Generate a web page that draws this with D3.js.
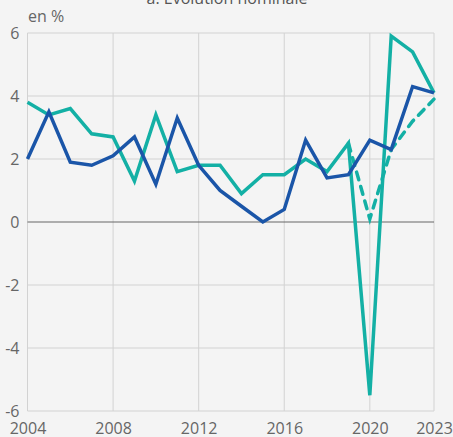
<!DOCTYPE html>
<html>
<head>
<meta charset="utf-8">
<script src="https://cdn.jsdelivr.net/npm/d3@7"></script>
<style>
  html, body { margin: 0; padding: 0; background: #f4f4f4; }
  svg { display: block; font-family: "Open Sans", sans-serif; }
</style>
</head>
<body>
<div id="chart"></div>
<script>
(function () {

  const years = d3.range(2004, 2024);
  const tickYears = [2004, 2008, 2012, 2016, 2020, 2023];
  const yTicks = [-6, -4, -2, 0, 2, 4, 6];

  const teal = [3.8, 3.4, 3.6, 2.8, 2.7, 1.3, 3.4, 1.6, 1.8, 1.8, 0.9, 1.5, 1.5, 2.0, 1.6, 2.5, -5.5, 5.9, 5.4, 4.1];
  const blue = [2.0, 3.5, 1.9, 1.8, 2.1, 2.7, 1.2, 3.3, 1.8, 1.0, 0.5, 0.0, 0.4, 2.6, 1.4, 1.5, 2.6, 2.3, 4.3, 4.1];
  const dashedYears = [2019, 2020, 2021, 2022, 2023];
  const dashed = [2.5, 0.1, 2.3, 3.2, 3.9];

  const width = 453,
    height = 437,
    margin = { top: 33, right: 19, bottom: 26, left: 27.5 },
    chartWidth = width - margin.left - margin.right,
    chartHeight = height - margin.top - margin.bottom;

  const x = d3.scaleLinear().domain([2004, 2023]).range([0, chartWidth]);
  const y = d3.scaleLinear().domain([-6, 6]).range([chartHeight, 0]);

  const svg = d3.select('#chart')
    .append('svg')
    .attr('width', width)
    .attr('height', height);

  // title, cut off at the top like in the source
  svg.append('text')
    .attr('x', 227)
    .attr('y', 4)
    .attr('text-anchor', 'middle')
    .attr('font-size', 16)
    .attr('fill', '#555')
    .text('a. Évolution nominale');

  svg.append('text')
    .attr('x', 28)
    .attr('y', 22)
    .attr('font-size', 16)
    .attr('fill', '#666')
    .text('en %');

  const chart = svg.append('g')
    .attr('transform', `translate(${margin.left}, ${margin.top})`);

  // grid
  chart.append('g')
    .selectAll('line')
    .data(yTicks.filter(d => d !== 0))
    .enter()
    .append('line')
    .attr('x1', 0)
    .attr('x2', chartWidth)
    .attr('y1', d => y(d))
    .attr('y2', d => y(d))
    .attr('stroke', '#d2d2d2')
    .attr('stroke-width', 1);

  chart.append('g')
    .selectAll('line')
    .data(tickYears)
    .enter()
    .append('line')
    .attr('x1', d => x(d))
    .attr('x2', d => x(d))
    .attr('y1', 0)
    .attr('y2', chartHeight)
    .attr('stroke', '#d2d2d2')
    .attr('stroke-width', 1);

  chart.append('line')
    .attr('x1', 0)
    .attr('x2', chartWidth)
    .attr('y1', y(0))
    .attr('y2', y(0))
    .attr('stroke', '#666')
    .attr('stroke-width', 1);

  // axes
  const yAxis = d3.axisLeft(y).tickValues(yTicks).tickFormat(d => String(d)).tickSize(0).tickPadding(8);
  chart.append('g')
    .call(yAxis)
    .call(g => g.select('.domain').remove())
    .selectAll('text')
    .attr('font-size', 16)
    .attr('font-family', '"Open Sans", sans-serif')
    .attr('fill', '#666');

  const xAxis = d3.axisBottom(x).tickValues(tickYears).tickFormat(d3.format('d')).tickSize(0).tickPadding(12);
  chart.append('g')
    .attr('transform', `translate(0, ${chartHeight})`)
    .call(xAxis)
    .call(g => g.select('.domain').remove())
    .selectAll('text')
    .attr('font-size', 16)
    .attr('font-family', '"Open Sans", sans-serif')
    .attr('fill', '#666');

  const line = d3.line()
    .x(d => x(d[0]))
    .y(d => y(d[1]));

  chart.append('path')
    .datum(years.map((yr, i) => [yr, teal[i]]))
    .attr('d', line)
    .attr('fill', 'none')
    .attr('stroke', '#13b0a5')
    .attr('stroke-width', 3.5);

  chart.append('path')
    .datum(dashedYears.map((yr, i) => [yr, dashed[i]]))
    .attr('d', line)
    .attr('fill', 'none')
    .attr('stroke', '#13b0a5')
    .attr('stroke-width', 3.5)
    .attr('stroke-dasharray', '8,7')
    .attr('stroke-linecap', 'round');

  chart.append('path')
    .datum(years.map((yr, i) => [yr, blue[i]]))
    .attr('d', line)
    .attr('fill', 'none')
    .attr('stroke', '#1a55a8')
    .attr('stroke-width', 3.5);

})();
</script>
</body>
</html>
